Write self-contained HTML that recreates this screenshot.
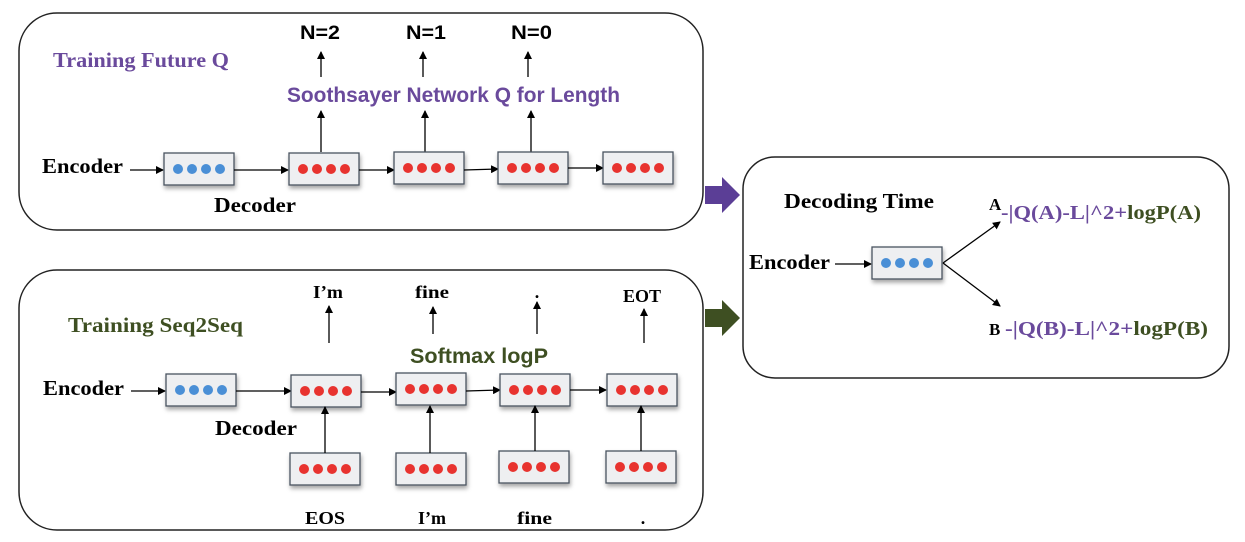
<!DOCTYPE html>
<html><head><meta charset="utf-8"><style>
html,body{margin:0;padding:0;background:#fff;}
svg{display:block;}
.s{font-family:"Liberation Serif",serif;font-weight:bold;}
.a{font-family:"Liberation Sans",sans-serif;font-weight:bold;}
</style></head><body>
<svg width="1245" height="542" viewBox="0 0 1245 542" xmlns="http://www.w3.org/2000/svg">
<defs>
<marker id="ar" markerWidth="8" markerHeight="8" refX="7" refY="4" orient="auto" markerUnits="userSpaceOnUse"><path d="M0,0 L8,4 L0,8 z" fill="#000"/></marker>
<filter id="sh" x="-20%" y="-20%" width="150%" height="160%"><feDropShadow dx="1" dy="3" stdDeviation="2" flood-color="#000" flood-opacity="0.35"/></filter>
<g id="rb"><rect x="-35" y="-16" width="70" height="32" fill="#eeeff1" stroke="#4a5360" stroke-width="1.3" filter="url(#sh)"/><circle cx="-21" cy="0" r="5" fill="#e8332f"/><circle cx="-7" cy="0" r="5" fill="#e8332f"/><circle cx="7" cy="0" r="5" fill="#e8332f"/><circle cx="21" cy="0" r="5" fill="#e8332f"/></g>
<g id="bb"><rect x="-35" y="-16" width="70" height="32" fill="#eeeff1" stroke="#4a5360" stroke-width="1.3" filter="url(#sh)"/><circle cx="-21" cy="0" r="5" fill="#4a8fd6"/><circle cx="-7" cy="0" r="5" fill="#4a8fd6"/><circle cx="7" cy="0" r="5" fill="#4a8fd6"/><circle cx="21" cy="0" r="5" fill="#4a8fd6"/></g>
</defs>

<rect x="19" y="13" width="684" height="217" rx="38" fill="#fff" stroke="#222" stroke-width="1.5"/>
<rect x="19" y="270" width="684" height="260" rx="38" fill="#fff" stroke="#222" stroke-width="1.5"/>
<rect x="743" y="157" width="486" height="221" rx="32" fill="#fff" stroke="#222" stroke-width="1.5"/>

<path d="M705,186 H722 V177 L740,195 L722,213 V204 H705 z" fill="#5b3e96"/>
<path d="M705,309 H722 V300 L740,318 L722,336 V327 H705 z" fill="#3e4f22"/>

<!-- TOP PANEL -->
<text x="53" y="67" class="s" font-size="21" fill="#6a4a9c" textLength="176" lengthAdjust="spacingAndGlyphs">Training Future Q</text>
<text x="300" y="39" class="a" font-size="19" textLength="40" lengthAdjust="spacingAndGlyphs">N=2</text>
<text x="406" y="39" class="a" font-size="19" textLength="40" lengthAdjust="spacingAndGlyphs">N=1</text>
<text x="511" y="39" class="a" font-size="19" textLength="41" lengthAdjust="spacingAndGlyphs">N=0</text>
<line x1="321" y1="77" x2="321" y2="52" stroke="#000" stroke-width="1.3" marker-end="url(#ar)"/>
<line x1="423" y1="77" x2="423" y2="52" stroke="#000" stroke-width="1.3" marker-end="url(#ar)"/>
<line x1="528" y1="77" x2="528" y2="52" stroke="#000" stroke-width="1.3" marker-end="url(#ar)"/>
<text x="287" y="102" class="a" font-size="21" fill="#6a4a9c" textLength="333" lengthAdjust="spacingAndGlyphs">Soothsayer Network Q for Length</text>
<line x1="321" y1="152" x2="321" y2="111" stroke="#000" stroke-width="1.3" marker-end="url(#ar)"/>
<line x1="425" y1="152" x2="425" y2="111" stroke="#000" stroke-width="1.3" marker-end="url(#ar)"/>
<line x1="531" y1="152" x2="531" y2="111" stroke="#000" stroke-width="1.3" marker-end="url(#ar)"/>
<text x="42" y="173" class="s" font-size="21" textLength="81" lengthAdjust="spacingAndGlyphs">Encoder</text>
<line x1="130" y1="170" x2="163" y2="170" stroke="#000" stroke-width="1.3" marker-end="url(#ar)"/>
<use href="#bb" x="199" y="169"/>
<line x1="234" y1="170" x2="288" y2="170" stroke="#000" stroke-width="1.3" marker-end="url(#ar)"/>
<use href="#rb" x="324" y="169"/>
<line x1="359" y1="170" x2="394" y2="170" stroke="#000" stroke-width="1.3" marker-end="url(#ar)"/>
<use href="#rb" x="429" y="168"/>
<line x1="464" y1="170" x2="498" y2="169" stroke="#000" stroke-width="1.3" marker-end="url(#ar)"/>
<use href="#rb" x="533" y="168"/>
<line x1="568" y1="168" x2="603" y2="168" stroke="#000" stroke-width="1.3" marker-end="url(#ar)"/>
<use href="#rb" x="638" y="168"/>
<text x="214" y="212" class="s" font-size="21" textLength="82" lengthAdjust="spacingAndGlyphs">Decoder</text>

<!-- BOTTOM PANEL -->
<text x="68" y="332" class="s" font-size="21" fill="#3e4f22" textLength="175" lengthAdjust="spacingAndGlyphs">Training Seq2Seq</text>
<text x="313" y="298" class="s" font-size="18" textLength="30" lengthAdjust="spacingAndGlyphs">I’m</text>
<text x="415" y="298" class="s" font-size="18" textLength="34" lengthAdjust="spacingAndGlyphs">fine</text>
<text x="537" y="298" class="s" font-size="18" text-anchor="middle">.</text>
<text x="623" y="302" class="s" font-size="18" textLength="38" lengthAdjust="spacingAndGlyphs">EOT</text>
<line x1="329" y1="343" x2="329" y2="306" stroke="#000" stroke-width="1.3" marker-end="url(#ar)"/>
<line x1="433" y1="334" x2="433" y2="307" stroke="#000" stroke-width="1.3" marker-end="url(#ar)"/>
<line x1="537" y1="334" x2="537" y2="302" stroke="#000" stroke-width="1.3" marker-end="url(#ar)"/>
<line x1="644" y1="343" x2="644" y2="309" stroke="#000" stroke-width="1.3" marker-end="url(#ar)"/>
<text x="410" y="363" class="a" font-size="21" fill="#3e4f22" textLength="138" lengthAdjust="spacingAndGlyphs">Softmax  logP</text>
<text x="43" y="395" class="s" font-size="21" textLength="81" lengthAdjust="spacingAndGlyphs">Encoder</text>
<line x1="131" y1="391" x2="165" y2="391" stroke="#000" stroke-width="1.3" marker-end="url(#ar)"/>
<use href="#bb" x="201" y="390"/>
<line x1="236" y1="391" x2="291" y2="391" stroke="#000" stroke-width="1.3" marker-end="url(#ar)"/>
<use href="#rb" x="326" y="391"/>
<line x1="361" y1="392" x2="396" y2="392" stroke="#000" stroke-width="1.3" marker-end="url(#ar)"/>
<use href="#rb" x="431" y="389"/>
<line x1="466" y1="391" x2="500" y2="390" stroke="#000" stroke-width="1.3" marker-end="url(#ar)"/>
<use href="#rb" x="535" y="390"/>
<line x1="570" y1="390" x2="606" y2="390" stroke="#000" stroke-width="1.3" marker-end="url(#ar)"/>
<use href="#rb" x="642" y="390"/>
<text x="215" y="435" class="s" font-size="21" textLength="82" lengthAdjust="spacingAndGlyphs">Decoder</text>
<use href="#rb" x="325" y="469"/>
<use href="#rb" x="431" y="469"/>
<use href="#rb" x="534" y="467"/>
<use href="#rb" x="641" y="467"/>
<line x1="325" y1="453" x2="325" y2="407" stroke="#000" stroke-width="1.3" marker-end="url(#ar)"/>
<line x1="430" y1="453" x2="430" y2="406" stroke="#000" stroke-width="1.3" marker-end="url(#ar)"/>
<line x1="535" y1="451" x2="535" y2="406" stroke="#000" stroke-width="1.3" marker-end="url(#ar)"/>
<line x1="641" y1="451" x2="641" y2="406" stroke="#000" stroke-width="1.3" marker-end="url(#ar)"/>
<text x="305" y="524" class="s" font-size="18" textLength="40" lengthAdjust="spacingAndGlyphs">EOS</text>
<text x="418" y="524" class="s" font-size="18" textLength="28" lengthAdjust="spacingAndGlyphs">I’m</text>
<text x="517" y="524" class="s" font-size="18" textLength="35" lengthAdjust="spacingAndGlyphs">fine</text>
<text x="643" y="524" class="s" font-size="18" text-anchor="middle">.</text>

<!-- RIGHT PANEL -->
<text x="784" y="208" class="s" font-size="21" textLength="150" lengthAdjust="spacingAndGlyphs">Decoding Time</text>
<text x="749" y="269" class="s" font-size="21" textLength="81" lengthAdjust="spacingAndGlyphs">Encoder</text>
<line x1="835" y1="264" x2="871" y2="264" stroke="#000" stroke-width="1.3" marker-end="url(#ar)"/>
<use href="#bb" x="907" y="263"/>
<line x1="943" y1="263" x2="1000" y2="222" stroke="#000" stroke-width="1.3" marker-end="url(#ar)"/>
<line x1="943" y1="263" x2="1000" y2="306" stroke="#000" stroke-width="1.3" marker-end="url(#ar)"/>
<text x="989" y="210" class="s" font-size="17">A</text>
<text x="1001" y="219" class="s" font-size="20" textLength="200" lengthAdjust="spacingAndGlyphs"><tspan fill="#6a4a9c">-|Q(A)-L|^2+</tspan><tspan fill="#3e4f22">logP(A)</tspan></text>
<text x="989" y="335" class="s" font-size="17">B</text>
<text x="1005" y="335" class="s" font-size="20" textLength="203" lengthAdjust="spacingAndGlyphs"><tspan fill="#6a4a9c">-|Q(B)-L|^2+</tspan><tspan fill="#3e4f22">logP(B)</tspan></text>
</svg>
</body></html>
